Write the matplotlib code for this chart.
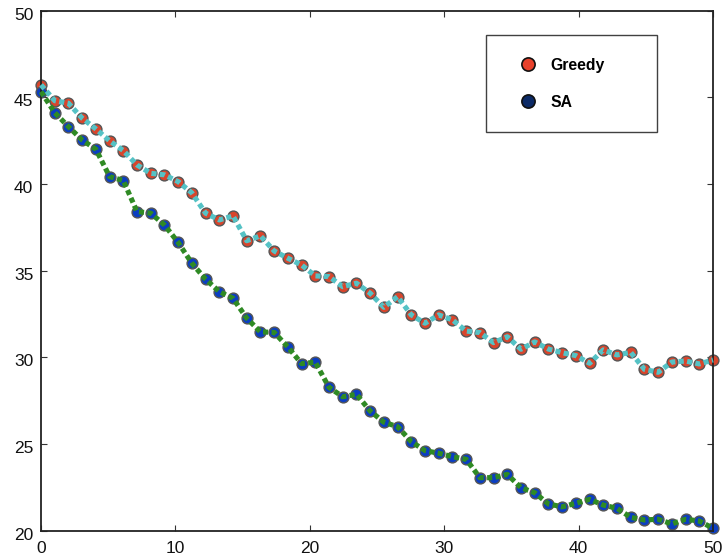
import numpy as np
import matplotlib
matplotlib.use("Agg")
import matplotlib.pyplot as plt
from matplotlib.lines import Line2D
from matplotlib.transforms import ScaledTranslation

plt.rcParams['font.family'] = ['Liberation Sans', 'DejaVu Sans']

# x grid: 50 evaluation points spanning 0..50
x = np.linspace(0, 50, 50)

greedy = [45.72, 44.81, 44.66, 43.80, 43.18, 42.49, 41.93, 41.10, 40.62, 40.53,
          40.14, 39.49, 38.32, 37.93, 38.16, 36.73, 37.01, 36.14, 35.72, 35.33,
          34.70, 34.66, 34.08, 34.28, 33.70, 32.89, 33.50, 32.45, 31.97, 32.45,
          32.16, 31.52, 31.43, 30.85, 31.19, 30.47, 30.89, 30.48, 30.27, 30.10,
          29.66, 30.43, 30.14, 30.29, 29.31, 29.14, 29.73, 29.79, 29.62, 29.85]

sa = [45.33, 44.12, 43.31, 42.54, 42.01, 40.43, 40.20, 38.41, 38.32, 37.64,
      36.63, 35.43, 34.51, 33.79, 33.41, 32.26, 31.47, 31.44, 30.60, 29.64,
      29.72, 28.27, 27.73, 27.87, 26.91, 26.26, 26.00, 25.14, 24.62, 24.47,
      24.27, 24.12, 23.06, 23.06, 23.25, 22.48, 22.19, 21.54, 21.38, 21.58,
      21.81, 21.48, 21.29, 20.77, 20.62, 20.66, 20.39, 20.66, 20.56, 20.14]

labels = ["Greedy", "SA"]
xticks = [0, 10, 20, 30, 40, 50]
yticks = [20, 25, 30, 35, 40, 45, 50]

fig = plt.figure(figsize=(7.24, 5.58), dpi=100)
ax = fig.add_axes([41/724, 1-530.7/558, (713-41)/724, (530.7-10.7)/558])

dot = (0, (1, 0.65))
ax.plot(x, greedy, linestyle='none', marker='o', markersize=7.8,
        markerfacecolor='#d8452c', markeredgecolor='#555555', markeredgewidth=1.0, zorder=2,
        clip_on=False)
ax.plot(x, greedy, color='#55c2c5', linewidth=3.7, linestyle=dot,
        solid_capstyle='butt', dash_capstyle='butt', zorder=3, clip_on=False)
ax.plot(x, sa, linestyle='none', marker='o', markersize=7.8,
        markerfacecolor='#0b3ec2', markeredgecolor='#555555', markeredgewidth=1.0, zorder=2,
        clip_on=False)
ax.plot(x, sa, color='#2f8a24', linewidth=3.7, linestyle=dot,
        solid_capstyle='butt', dash_capstyle='butt', zorder=3, clip_on=False)

ax.set_xlim(0, 50)
ax.set_ylim(20, 50)
ax.set_xticks(xticks)
ax.set_yticks(yticks)
ax.set_xticklabels([str(t) for t in xticks])
ax.set_yticklabels([str(t) for t in yticks])
ax.tick_params(direction='in', length=4.3, width=0.8, color='#333333',
               top=True, right=True, labelsize=12.5, labelcolor='#111111')
ax.tick_params(axis='y', pad=5.5)
ax.tick_params(axis='x', pad=7.5)
for s in ax.spines.values():
    s.set_linewidth(1.3)
    s.set_color('#222222')

off = ScaledTranslation(0, -3/100, fig.dpi_scale_trans)
for lab in ax.get_yticklabels():
    lab.set_transform(lab.get_transform() + off)

handles = [
    Line2D([], [], linestyle='none', marker='o', markersize=9.5,
           markerfacecolor='#e8412c', markeredgecolor='#111111', markeredgewidth=1.2),
    Line2D([], [], linestyle='none', marker='o', markersize=9.5,
           markerfacecolor='#0c2a66', markeredgecolor='#111111', markeredgewidth=1.2),
]
leg = ax.legend(handles, labels, loc='upper left', mode='expand',
                bbox_to_anchor=(486/724, 1-126.7/558, 171/724, 91.7/558),
                bbox_transform=fig.transFigure,
                frameon=True, fancybox=False, edgecolor='#111111',
                prop={'size': 11.3, 'weight': 'bold'},
                borderpad=1.45, labelspacing=1.4, handlelength=2.5,
                handletextpad=0.15, borderaxespad=0)
leg.get_frame().set_linewidth(1.0)
leg.set_zorder(5)

fig.savefig('out.png', dpi=100)
